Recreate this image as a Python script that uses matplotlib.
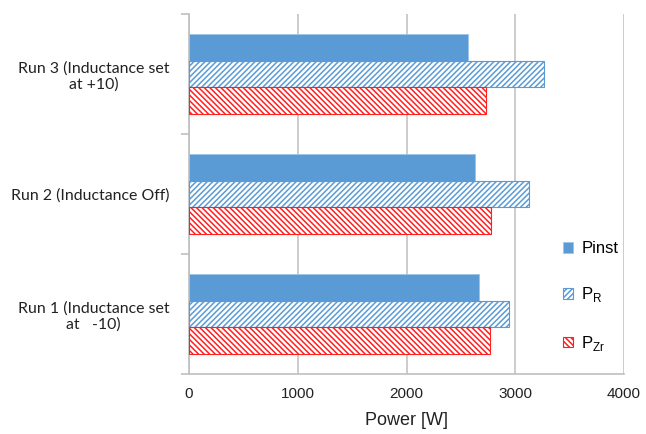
import matplotlib
matplotlib.use("Agg")
import matplotlib.pyplot as plt
import numpy as np

# Power per run, bottom to top on the chart
runs = ["Run 1 (Inductance set\nat   -10)",
        "Run 2 (Inductance Off)",
        "Run 3 (Inductance set\nat +10)"]
pinst = [2663, 2629, 2562]
p_r = [2943, 3130, 3266]
p_zr = [2768, 2780, 2731]

plt.rcParams['font.family'] = ['Liberation Sans', 'DejaVu Sans']
plt.rcParams['hatch.linewidth'] = 1.1

fig = plt.figure(figsize=(6.46, 4.34), dpi=100)
ax = fig.add_axes([189 / 646, 1 - 374 / 434, 435 / 646, 360 / 434])

y = np.arange(len(runs))
h = 0.222
blue = '#5b9bd5'
red = '#ff2020'

ax.barh(y + h, pinst, height=h, color=blue, edgecolor='#9dc3e6',
        linewidth=0.6, label='Pinst', zorder=3)
ax.barh(y, p_r, height=h, color='white', edgecolor=blue, hatch='//////',
        linewidth=0.8, label='P$_\\mathregular{R}$', zorder=3)
ax.barh(y - h, p_zr, height=h, color='white', edgecolor=red,
        hatch='\\' * 6, linewidth=0.8, label='P$_\\mathregular{Zr}$', zorder=3)

ax.set_xlim(0, 4000)
ax.set_ylim(-0.5, 2.5)
ax.set_xticks([0, 1000, 2000, 3000, 4000])
ax.grid(axis='x', color='#c8c8c8', linewidth=1.3, zorder=0)
ax.tick_params(axis='x', length=0, pad=9, labelsize=11, colors='#222222')

# category labels centred, tick marks on the category boundaries
ax.set_yticks(y)
ax.set_yticklabels(runs, fontsize=11.4, family=['Lato', 'DejaVu Sans'])
for lbl in ax.get_yticklabels():
    lbl.set_multialignment('center')
ax.tick_params(axis='y', which='major', length=0, pad=14, colors='#222222')
ax.set_yticks([-0.5, 0.5, 1.5, 2.5], minor=True)
ax.tick_params(axis='y', which='minor', length=6, color='#bfbfbf', width=1.2)

for side in ['top', 'right']:
    ax.spines[side].set_visible(False)
for side in ['left', 'bottom']:
    ax.spines[side].set_color('#bfbfbf')
    ax.spines[side].set_linewidth(1.2)

ax.set_xlabel('Power [W]', fontsize=13, labelpad=8, color='#222222')

handles, labels = ax.get_legend_handles_labels()
fig.legend(handles, labels, loc='center left',
           bbox_to_anchor=(548 / 646, 1 - 297 / 434),
           frameon=False, fontsize=12, handlelength=0.6, handleheight=0.6,
           handletextpad=0.5, labelspacing=1.75)

plt.savefig('out.png', dpi=100)
